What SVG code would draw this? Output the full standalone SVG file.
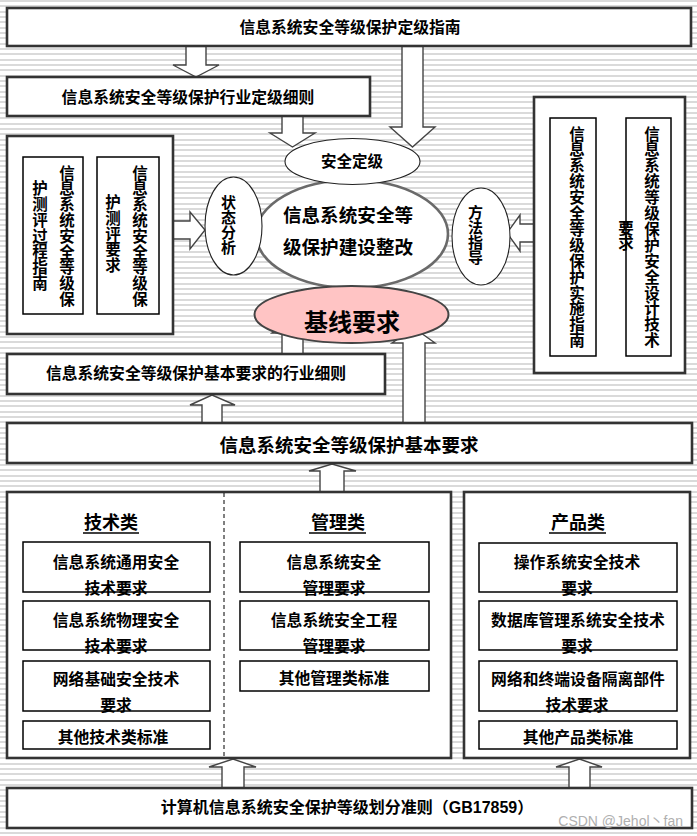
<svg xmlns="http://www.w3.org/2000/svg" width="697" height="836" viewBox="0 0 697 836">
<defs>
<pattern id="stripes" width="8" height="16" patternUnits="userSpaceOnUse">
<rect width="8" height="16" fill="#ffffff"/>
<rect y="0" width="8" height="2" fill="#dadada"/>
<rect y="5" width="8" height="2" fill="#dadada"/>
<rect y="11" width="8" height="2" fill="#dadada"/>
</pattern>
</defs>
<style>
.box{fill:#fff;stroke:#333;stroke-width:2.6}
.inner{fill:#fff;stroke:#000;stroke-width:1.5}
.arrow{fill:#fff;stroke:#444;stroke-width:1.4;stroke-linejoin:miter}
.ell{fill:#fff;stroke:#222;stroke-width:1.1}
.t{font-family:"Liberation Sans","Noto Sans CJK SC",sans-serif;font-weight:bold;fill:#000;text-anchor:middle;dominant-baseline:central}
.s16{font-size:15.8px}
.v{font-size:15.5px}
.title{font-size:18px}
</style>
<rect width="697" height="836" fill="url(#stripes)"/>

<g id="connectors">
<polygon class="arrow" points="186,46 206,46 206,65 219,65 196,77 173,65 186,65"/>
<polygon class="arrow" points="282,116 303,116 303,133 315,133 292.5,147 270,133 282,133"/>
<polygon class="arrow" points="402,46 423,46 423,127 435,127 412.5,147 390,127 402,127"/>
<polygon class="arrow" points="173,221 190,221 190,212 205,230 190,249 190,239 173,239"/>
<polygon class="arrow" points="534,224 520,224 520,215 507,233 520,251 520,242 534,242"/>
<polygon class="arrow" points="282,354 282,333 272,333 292.5,318 313,333 303,333 303,354"/>
<polygon class="arrow" points="403,423 403,343 392,343 414,328 435,343 425,343 425,423"/>
<polygon class="arrow" points="202,423 202,405 190,405 212,395 235,405 222,405 222,423"/>
<polygon class="arrow" points="320,492 320,471 309,471 332,464 356,471 344,471 344,492"/>
<polygon class="arrow" points="222,788 222,767 209,767 233,759 256,767 244,767 244,788"/>
<polygon class="arrow" points="569,788 569,767 556,767 579.5,759 602,767 590,767 590,788"/>
</g>

<g id="n-dingji-zhinan">
<rect class="box" x="7" y="8" width="684" height="38"/>
<text class="t s16" x="350" y="27">信息系统安全等级保护定级指南</text>
</g>

<g id="n-hangye-dingji">
<rect class="box" x="7" y="77" width="363" height="39"/>
<text class="t s16" x="188" y="97">信息系统安全等级保护行业定级细则</text>
</g>

<g id="n-cepng">
<rect class="box" x="7" y="136" width="166" height="198"/>
<rect class="inner" x="23" y="157" width="60" height="157"/>
<text class="t v" x="67 67 67 67 67 67 67 67 67" y="173 188.8 204.6 220.4 236.2 252 267.8 283.6 299.4">信息系统安全等级保</text>
<text class="t v" x="40 40 40 40 40 40 40" y="188.6 204.4 220.2 236 251.8 267.6 283.4">护测评过程指南</text>
<rect class="inner" x="97" y="157" width="62" height="157"/>
<text class="t v" x="140 140 140 140 140 140 140 140 140" y="173 188.8 204.6 220.4 236.2 252 267.8 283.6 299.4">信息系统安全等级保</text>
<text class="t v" x="113 113 113 113 113" y="202.4 218.2 234 249.8 265.6">护测评要求</text>
</g>

<g id="n-shishi">
<rect class="box" x="534" y="97" width="151" height="276"/>
<rect class="inner" x="550" y="118" width="46" height="238"/>
<text class="t v" x="577 577 577 577 577 577 577 577 577 577 577 577 577 577" y="134 149.9 165.8 181.7 197.6 213.5 229.4 245.3 261.2 277.1 293 308.9 324.8 340.7">信息系统安全等级保护实施指南</text>
<rect class="inner" x="626" y="118" width="45" height="238"/>
<text class="t v" x="652 652 652 652 652 652 652 652 652 652 652 652 652 652" y="134 149.9 165.8 181.7 197.6 213.5 229.4 245.3 261.2 277.1 293 308.9 324.8 340.7">信息系统等级保护安全设计技术</text>
<text class="t v" x="626 626" y="228 243.7">要求</text>
</g>

<g id="n-jianshe">
<ellipse cx="352" cy="234" rx="96" ry="54" fill="#fff" stroke="#6a6a6a" stroke-width="2.6"/>
<text class="t" style="font-size:18.6px" x="348" y="215">信息系统安全等</text>
<text class="t" style="font-size:18.6px" x="348" y="247">级保护建设整改</text>
</g>

<g id="n-dingji">
<ellipse class="ell" cx="352.5" cy="161.5" rx="67.5" ry="23"/>
<text class="t" style="font-size:15.5px" x="352" y="161">安全定级</text>
</g>

<g id="n-zhuangtai">
<ellipse class="ell" cx="233.5" cy="226" rx="28.5" ry="49"/>
<text class="t" style="font-size:15px" x="228.5 228.5 228.5 228.5" y="202.5 217.5 232.5 247.5">状态分析</text>
</g>

<g id="n-fangfa">
<ellipse class="ell" cx="481" cy="236.5" rx="29" ry="48.5"/>
<text class="t" style="font-size:15px" x="475.5 475.5 475.5 475.5" y="212.5 227.5 242.5 257.5">方法指导</text>
</g>

<g id="n-jixian">
<ellipse cx="351.5" cy="314.5" rx="97" ry="28.5" fill="#ffc4c4" stroke="#444" stroke-width="2"/>
<text class="t" style="font-size:24px" x="352" y="322">基线要求</text>
</g>

<g id="n-hangye-xize">
<rect class="box" x="7" y="354" width="378" height="40"/>
<text class="t s16" x="196" y="373">信息系统安全等级保护基本要求的行业细则</text>
</g>

<g id="n-jiben">
<rect class="box" x="7" y="423" width="685" height="40"/>
<text class="t" style="font-size:18.5px" x="349" y="445">信息系统安全等级保护基本要求</text>
</g>

<g id="n-jishu-guanli">
<rect class="box" x="7" y="492" width="444" height="266"/>
<line x1="224" y1="493" x2="224" y2="757" stroke="#000" stroke-width="1" stroke-dasharray="4,3"/>
<text class="t title" x="111" y="523">技术类</text>
<line x1="83" y1="533" x2="139" y2="533" stroke="#000" stroke-width="1.5"/>
<text class="t title" x="338" y="523">管理类</text>
<line x1="309" y1="533" x2="366" y2="533" stroke="#000" stroke-width="1.5"/>

<rect class="inner" x="23" y="542" width="187" height="50"/>
<text class="t s16" x="116" y="562">信息系统通用安全</text>
<text class="t s16" x="116" y="588">技术要求</text>
<rect class="inner" x="23" y="601" width="187" height="49"/>
<text class="t s16" x="116" y="620">信息系统物理安全</text>
<text class="t s16" x="116" y="646">技术要求</text>
<rect class="inner" x="23" y="661" width="187" height="50"/>
<text class="t s16" x="116" y="679">网络基础安全技术</text>
<text class="t s16" x="116" y="705">要求</text>
<rect class="inner" x="23" y="721" width="187" height="28"/>
<text class="t s16" x="113" y="737">其他技术类标准</text>

<rect class="inner" x="240" y="542" width="189" height="50"/>
<text class="t s16" x="334" y="562">信息系统安全</text>
<text class="t s16" x="334" y="588">管理要求</text>
<rect class="inner" x="240" y="601" width="189" height="49"/>
<text class="t s16" x="334" y="620">信息系统安全工程</text>
<text class="t s16" x="334" y="646">管理要求</text>
<rect class="inner" x="240" y="661" width="189" height="30"/>
<text class="t s16" x="334" y="678">其他管理类标准</text>
</g>

<g id="n-chanpin">
<rect class="box" x="464" y="492" width="226" height="266"/>
<text class="t title" x="578" y="523">产品类</text>
<line x1="549" y1="533" x2="606" y2="533" stroke="#000" stroke-width="1.5"/>
<rect class="inner" x="479" y="543" width="198" height="49"/>
<text class="t s16" x="577" y="562">操作系统安全技术</text>
<text class="t s16" x="577" y="588">要求</text>
<rect class="inner" x="479" y="601" width="198" height="49"/>
<text class="t s16" x="578" y="620">数据库管理系统安全技术</text>
<text class="t s16" x="577" y="646">要求</text>
<rect class="inner" x="479" y="661" width="198" height="50"/>
<text class="t s16" x="578" y="679">网络和终端设备隔离部件</text>
<text class="t s16" x="577" y="705">技术要求</text>
<rect class="inner" x="479" y="721" width="198" height="28"/>
<text class="t s16" x="578" y="737">其他产品类标准</text>
</g>

<g id="n-gb17859">
<rect class="box" x="7" y="788" width="685" height="40"/>
<text class="t" style="font-size:16px" x="347" y="807">计算机信息系统安全保护等级划分准则（GB17859）</text>
</g>

<text x="683" y="826" style="font-family:'Liberation Sans','Noto Sans CJK SC',sans-serif;font-size:14px;fill:#b0b0b0;text-anchor:end">CSDN @Jehol丶fan</text>
</svg>
